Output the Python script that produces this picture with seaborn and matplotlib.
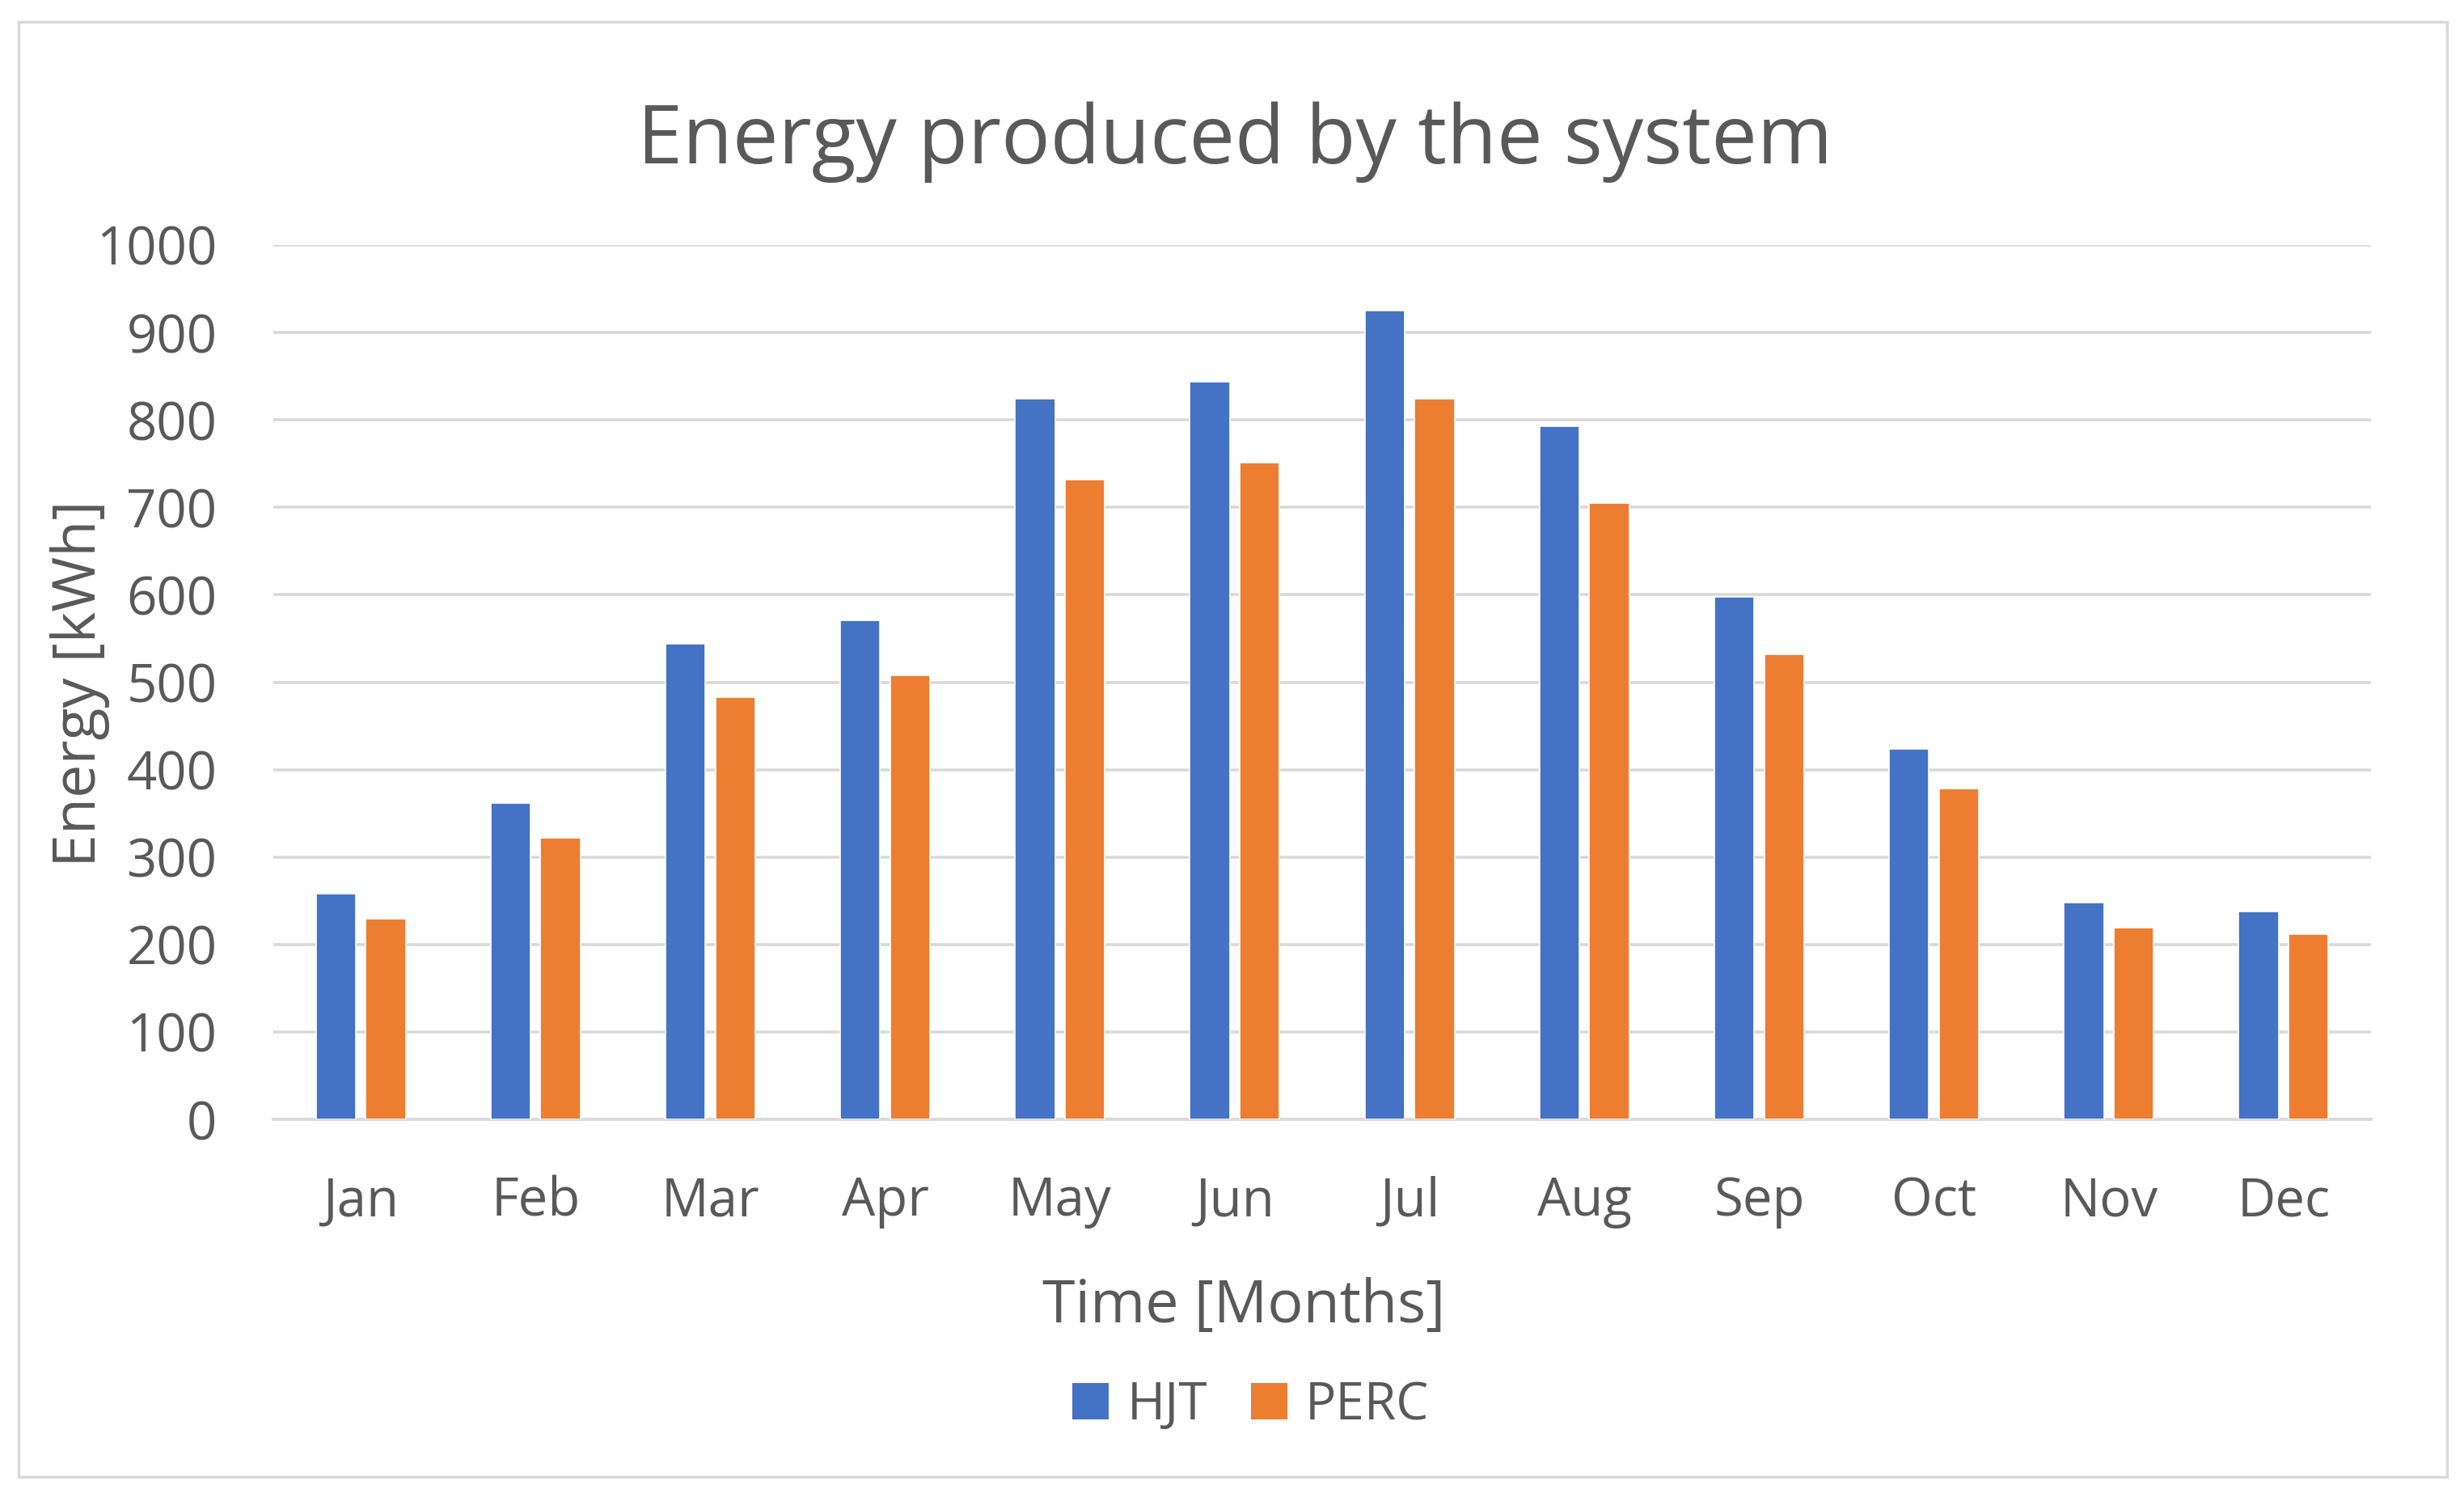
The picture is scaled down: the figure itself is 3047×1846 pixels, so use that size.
import matplotlib
matplotlib.use("Agg")
import matplotlib.pyplot as plt
from matplotlib.patches import Rectangle, Patch
import seaborn as sns
import pandas as pd

months = ["Jan", "Feb", "Mar", "Apr", "May", "Jun", "Jul", "Aug", "Sep", "Oct", "Nov", "Dec"]
hjt = [258, 362, 544, 571, 824, 844, 925, 793, 598, 424, 248, 238]
perc = [229, 322, 483, 508, 732, 751, 824, 705, 532, 378, 219, 212]
series = ["HJT", "PERC"]
colors = ["#4472C4", "#ED7D31"]
yticks = list(range(0, 1001, 100))

df = pd.DataFrame({
    "Month": months * 2,
    "Energy": hjt + perc,
    "Tech": ["HJT"] * len(months) + ["PERC"] * len(months),
})

sns.set_theme(style="white")
plt.rcParams["font.family"] = ["Open Sans", "DejaVu Sans"]
TXT = "#595959"
GRID = "#D9D9D9"

W, H = 3047, 1846
fig = plt.figure(figsize=(W / 100, H / 100), dpi=100)
fig.patch.set_facecolor("white")

# outer chart border
fig.patches.append(Rectangle((23 / W, 1 - 1826 / H), (3026 - 23) / W, (1826 - 27) / H,
                             transform=fig.transFigure, fill=False, edgecolor=GRID,
                             linewidth=2.5, zorder=0))

ax = fig.add_axes([338 / W, 1 - 1384 / H, (2932 - 338) / W, (1384 - 303) / H])
sns.barplot(data=df, x="Month", y="Energy", hue="Tech", palette=colors,
            saturation=1, width=0.57, gap=0.2, edgecolor="white", linewidth=1.2,
            ax=ax, legend=False, zorder=3)

ax.set_ylim(0, 1000)
ax.set_xlim(-0.5, len(months) - 0.5)
ax.set_yticks(yticks)
ax.set_yticklabels([str(v) for v in yticks])
ax.yaxis.grid(True, color=GRID, linewidth=2.6, zorder=0)
ax.set_axisbelow(True)
for s in ["top", "right", "left"]:
    ax.spines[s].set_visible(False)
ax.spines["bottom"].set_color(GRID)
ax.spines["bottom"].set_linewidth(2.8)
ax.tick_params(axis="y", length=0, pad=50, labelsize=47, labelcolor=TXT)
ax.tick_params(axis="x", length=0, pad=50, labelsize=47, labelcolor=TXT)
ax.set_xlabel("")
ax.set_ylabel("")

fig.text(1527 / W, 1 - 202 / H, "Energy produced by the system", ha="center",
         va="baseline", fontsize=72.5, color=TXT)
fig.text(1538 / W, 1 - 1635 / H, "Time [Months]", ha="center", va="baseline",
         fontsize=53, color=TXT)
fig.text(99 / W, 1 - 845 / H, "Energy [kWh]", ha="center", va="center",
         rotation=90, fontsize=53, color=TXT)

handles = [Patch(facecolor=c, edgecolor="none") for c in colors]
fig.legend(handles, series, loc="center", bbox_to_anchor=(1547 / W, 1 - 1738 / H),
           ncol=2, frameon=False, fontsize=46, labelcolor=TXT,
           handlelength=0.7, handleheight=0.7, handletextpad=0.35,
           columnspacing=0.85)

fig.savefig("out.png", dpi=100, facecolor="white")
